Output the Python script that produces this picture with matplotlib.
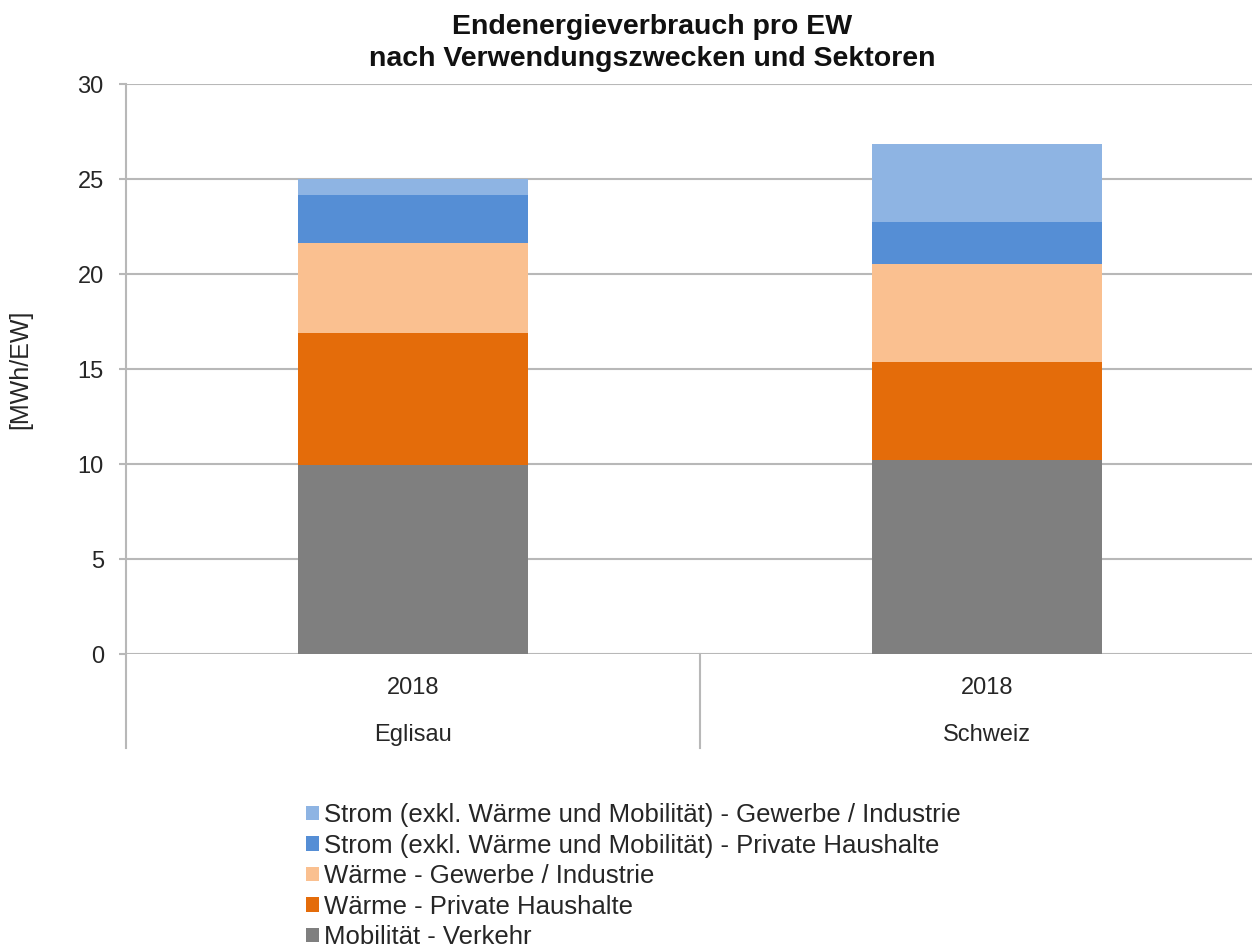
import matplotlib
matplotlib.use("Agg")
import matplotlib.pyplot as plt
from matplotlib.patches import Patch
import numpy as np

plt.rcParams['font.family'] = ['Liberation Sans', 'DejaVu Sans']

regions = ["Eglisau", "Schweiz"]
years = ["2018", "2018"]
series_names = [
    "Mobilität - Verkehr",
    "Wärme - Private Haushalte",
    "Wärme - Gewerbe / Industrie",
    "Strom (exkl. Wärme und Mobilität) - Private Haushalte",
    "Strom (exkl. Wärme und Mobilität) - Gewerbe / Industrie",
]
mobilitaet = [9.95, 10.21]
waerme_ph = [6.96, 5.14]
waerme_gi = [4.74, 5.19]
strom_ph = [2.52, 2.18]
strom_gi = [0.83, 4.10]
series_values = [mobilitaet, waerme_ph, waerme_gi, strom_ph, strom_gi]
colors = ["#7F7F7F", "#E46C0A", "#FAC090", "#558ED5", "#8EB4E3"]

W, H = 1252, 947
fig = plt.figure(figsize=(W / 100, H / 100), dpi=100)
ax = fig.add_axes([126 / W, (H - 654.3) / H, 1148 / W, 570.3 / H])

x = np.arange(len(regions))
bottom = np.zeros(len(regions))
for vals, c in zip(series_values, colors):
    ax.bar(x, vals, width=0.4, bottom=bottom, color=c, zorder=3)
    bottom += np.array(vals)

ax.set_xlim(-0.5, 1.5)
ax.set_ylim(0, 30)
ax.set_yticks(np.arange(0, 31, 5))
ax.yaxis.grid(True, color="#B8B8B8", linewidth=1.5, zorder=0)
ax.set_axisbelow(True)
for s in ["top", "right", "bottom"]:
    ax.spines[s].set_visible(False)
ax.spines["left"].set_color("#B8B8B8")
ax.spines["left"].set_linewidth(1.5)
ax.tick_params(axis="y", length=5, width=1.5, color="#B8B8B8", pad=11,
               labelsize=17, labelcolor="#262626")
ax.tick_params(axis="x", length=0, labelbottom=False)

# category labels (two-level axis)
trans = ax.get_xaxis_transform()
for xi, (yr, rg) in enumerate(zip(years, regions)):
    ax.text(xi, -0.059, yr, transform=trans, ha="center", va="center",
            fontsize=17, color="#262626")
    ax.text(xi, -0.141, rg, transform=trans, ha="center", va="center",
            fontsize=17, color="#262626")
for sx in [-0.5, 0.5, 1.5]:
    ax.plot([sx, sx], [0, -0.164], transform=trans, color="#B8B8B8",
            linewidth=1.5, clip_on=False, zorder=2)

ax.set_ylabel("[MWh/EW]", fontsize=18, color="#262626", labelpad=0)
ax.yaxis.set_label_coords(-(126 - 32) / 1148, 0.5)

fig.text(652 / W, 1 - 43 / H, "Endenergieverbrauch pro EW\nnach Verwendungszwecken und Sektoren",
         ha="center", va="center", fontsize=20.5, fontweight="bold",
         color="#111111", linespacing=1.32)

handles = [Patch(facecolor=c, edgecolor="none") for c in colors][::-1]
labels = series_names[::-1]
fig.legend(handles, labels, loc="upper left", bbox_to_anchor=(296 / W, 1 - 793 / H),
           frameon=False, fontsize=18.5, handlelength=0.5, handleheight=0.5,
           handletextpad=0.2, labelspacing=0.25, borderaxespad=0,
           labelcolor="#262626")

fig.savefig("out.png", dpi=100)
